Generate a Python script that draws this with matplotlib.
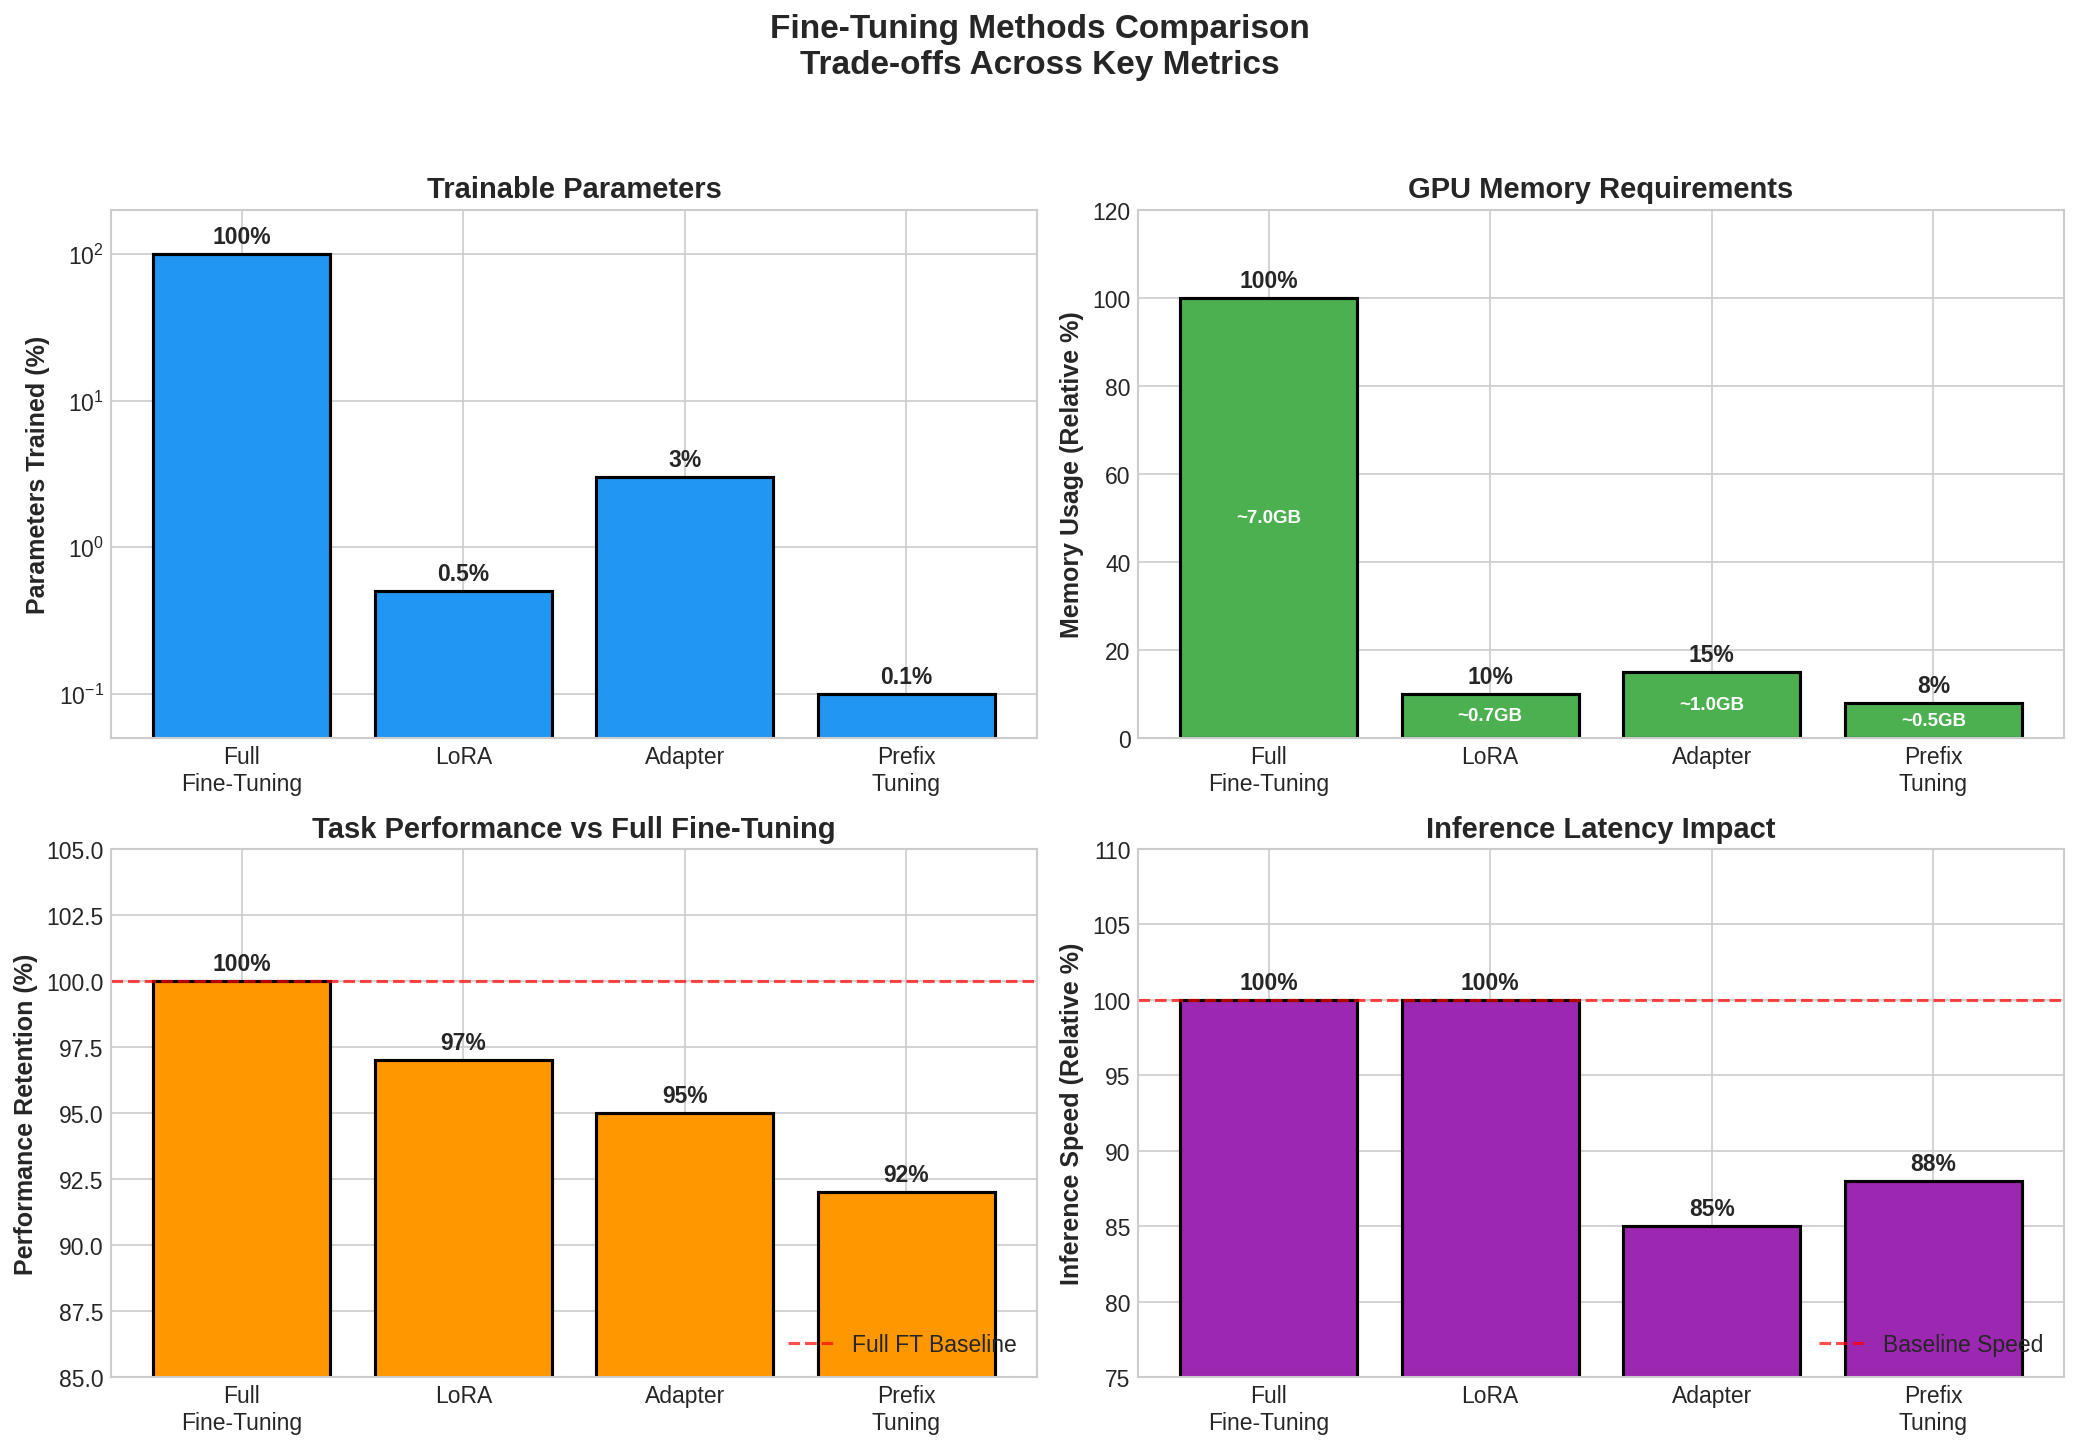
import matplotlib.pyplot as plt
import numpy as np

plt.style.use('seaborn-v0_8-whitegrid')
plt.rcParams['font.family'] = ['Liberation Sans', 'DejaVu Sans']

# data
methods = ['Full\nFine-Tuning', 'LoRA', 'Adapter', 'Prefix\nTuning']
params_pct = [100, 0.5, 3, 0.1]
params_labels = ['100%', '0.5%', '3%', '0.1%']
memory_pct = [100, 10, 15, 8]
memory_gb = ['~7.0GB', '~0.7GB', '~1.0GB', '~0.5GB']
perf_pct = [100, 97, 95, 92]
speed_pct = [100, 100, 85, 88]

fig = plt.figure(figsize=(13.867, 9.62), dpi=150)
w, h = 0.4452, 0.3659
ax1 = fig.add_axes([0.0534, 0.4879, w, h])
ax2 = fig.add_axes([0.5471, 0.4879, w, h])
ax3 = fig.add_axes([0.0534, 0.0450, w, h])
ax4 = fig.add_axes([0.5471, 0.0450, w, h])

x = np.arange(len(methods))

def label_bars(ax, bars, labels):
    for b, lab in zip(bars, labels):
        ax.annotate(lab, (b.get_x() + b.get_width() / 2, b.get_height()),
                    xytext=(0, 3), textcoords='offset points',
                    ha='center', va='bottom', fontsize=11, fontweight='bold')

# 1. trainable parameters
bars = ax1.bar(x, params_pct, color='#2196F3', edgecolor='black', linewidth=1.5)
ax1.set_yscale('log')
ax1.set_ylim(0.05, 200)
label_bars(ax1, bars, params_labels)
ax1.set_ylabel('Parameters Trained (%)', fontsize=12, fontweight='bold')
ax1.set_title('Trainable Parameters', fontsize=14, fontweight='bold')

# 2. memory
bars = ax2.bar(x, memory_pct, color='#4CAF50', edgecolor='black', linewidth=1.5)
ax2.set_ylim(0, 120)
label_bars(ax2, bars, [f'{v}%' for v in memory_pct])
for b, g in zip(bars, memory_gb):
    ax2.text(b.get_x() + b.get_width() / 2, b.get_height() / 2, g,
             ha='center', va='center', fontsize=9, fontweight='bold', color='white')
ax2.set_ylabel('Memory Usage (Relative %)', fontsize=12, fontweight='bold')
ax2.set_title('GPU Memory Requirements', fontsize=14, fontweight='bold')

# 3. performance
bars = ax3.bar(x, perf_pct, color='#FF9800', edgecolor='black', linewidth=1.5)
ax3.set_ylim(85, 105)
ax3.axhline(100, color='red', linestyle='--', linewidth=1.5, alpha=0.7, label='Full FT Baseline')
label_bars(ax3, bars, [f'{v}%' for v in perf_pct])
ax3.set_ylabel('Performance Retention (%)', fontsize=12, fontweight='bold')
ax3.set_title('Task Performance vs Full Fine-Tuning', fontsize=14, fontweight='bold')
ax3.legend(loc='lower right', fontsize=11)

# 4. latency
bars = ax4.bar(x, speed_pct, color='#9C27B0', edgecolor='black', linewidth=1.5)
ax4.set_ylim(75, 110)
ax4.axhline(100, color='red', linestyle='--', linewidth=1.5, alpha=0.7, label='Baseline Speed')
label_bars(ax4, bars, [f'{v}%' for v in speed_pct])
ax4.set_ylabel('Inference Speed (Relative %)', fontsize=12, fontweight='bold')
ax4.set_title('Inference Latency Impact', fontsize=14, fontweight='bold')
ax4.legend(loc='lower right', fontsize=11)

for ax in (ax1, ax2, ax3, ax4):
    ax.set_xticks(x)
    ax.set_xticklabels(methods, fontsize=11)
    ax.tick_params(axis='y', labelsize=11)

fig.suptitle('Fine-Tuning Methods Comparison\nTrade-offs Across Key Metrics',
             fontsize=16, fontweight='bold', y=0.99)

fig.savefig('out.png', dpi=150)
